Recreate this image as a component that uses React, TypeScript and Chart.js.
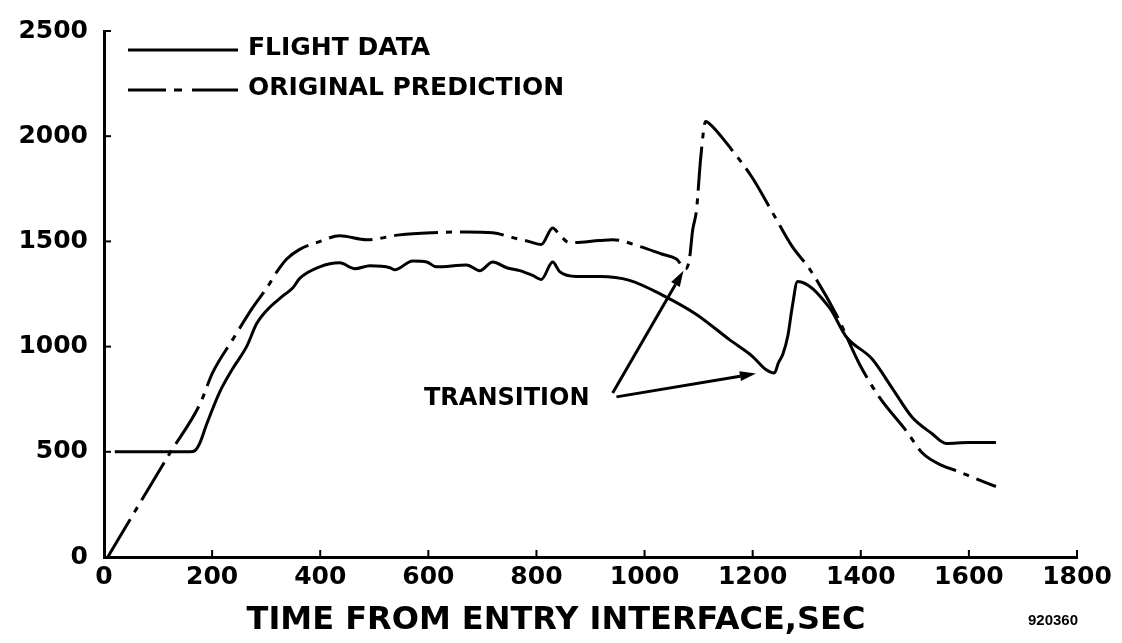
import React, { useEffect, useRef } from "react";
import { Chart, registerables } from "chart.js";

Chart.register(...registerables);

// ---------- data ----------
const xTicks = [0, 200, 400, 600, 800, 1000, 1200, 1400, 1600, 1800];
const yTicks = [0, 500, 1000, 1500, 2000, 2500];

const flightTime = [
  20, 160, 168, 177, 190, 214, 238, 264, 282, 301, 331, 349, 362, 399, 436, 464, 492, 529, 538, 571,
  597, 615, 671, 695, 719, 745, 769, 793, 809, 830, 843, 874, 917, 972, 1033, 1096, 1157, 1199, 1225,
  1240, 1248, 1256, 1265, 1273, 1283, 1342, 1373, 1421, 1458, 1495, 1532, 1558, 1600, 1650,
];
const flightTemp = [
  500, 500, 505, 540, 632, 784, 895, 1001, 1107, 1172, 1241, 1278, 1324, 1379, 1398, 1370, 1384, 1375,
  1365, 1407, 1402, 1379, 1388, 1361, 1402, 1375, 1361, 1338, 1319, 1402, 1356, 1333, 1333, 1315, 1245,
  1153, 1033, 955, 890, 875, 925, 965, 1050, 1185, 1310, 1185, 1047, 941, 803, 664, 586, 540, 544, 544,
];

const predTime = [
  7, 54, 122, 177, 201, 238, 275, 301, 320, 338, 362, 399, 436, 486, 547, 608, 671, 719, 756, 787, 809,
  830, 843, 861, 917, 941, 991, 1033, 1059, 1076, 1083, 1089, 1096, 1104, 1113, 1120, 1160, 1200, 1236,
  1273, 1305, 1355, 1397, 1434, 1484, 1514, 1551, 1576, 1615, 1650,
];
const predTemp = [
  0, 203, 494, 724, 876, 1033, 1185, 1278, 1356, 1416, 1462, 1499, 1527, 1508, 1531, 1541, 1545, 1541,
  1518, 1499, 1485, 1564, 1531, 1494, 1504, 1508, 1476, 1439, 1416, 1370, 1416, 1554, 1647, 1900, 2070,
  2060, 1940, 1800, 1640, 1476, 1370, 1150, 920, 761, 600, 494, 434, 411, 370, 335,
];

const legendLabels = ["FLIGHT DATA", "ORIGINAL PREDICTION"];
const xTitle = "TIME FROM ENTRY INTERFACE,SEC";
const figureId = "920360";
const transitionLabel = "TRANSITION";
// annotation anchors in data units (time, value)
const transitionTextAt = [745, 752];
const arrowFrom = [
  [941, 780],
  [948, 761],
];
const arrowTo = [
  [1072, 1361],
  [1206, 872],
];

const FONT = "'DejaVu Sans', sans-serif";

function drawArrow(ctx: CanvasRenderingContext2D, x1: number, y1: number, x2: number, y2: number) {
  const ang = Math.atan2(y2 - y1, x2 - x1);
  const headLen = 16;
  const headW = 5;
  const bx = x2 - headLen * Math.cos(ang);
  const by = y2 - headLen * Math.sin(ang);
  ctx.beginPath();
  ctx.moveTo(x1, y1);
  ctx.lineTo(bx, by);
  ctx.stroke();
  ctx.beginPath();
  ctx.moveTo(x2, y2);
  ctx.lineTo(bx + headW * Math.sin(ang), by - headW * Math.cos(ang));
  ctx.lineTo(bx - headW * Math.sin(ang), by + headW * Math.cos(ang));
  ctx.closePath();
  ctx.fill();
}

const decorPlugin = {
  id: "decor",
  afterDraw(chart: any) {
    const ctx: CanvasRenderingContext2D = chart.ctx;
    const xs = chart.scales.x;
    const ys = chart.scales.y;
    const area = chart.chartArea;
    ctx.save();
    ctx.strokeStyle = "#000";
    ctx.fillStyle = "#000";
    ctx.setLineDash([]);
    // inward tick marks
    ctx.lineWidth = 2;
    yTicks.forEach((v) => {
      const y = ys.getPixelForValue(v);
      ctx.beginPath();
      ctx.moveTo(area.left, y);
      ctx.lineTo(area.left + 7, y);
      ctx.stroke();
    });
    xTicks.forEach((v) => {
      const x = xs.getPixelForValue(v);
      ctx.beginPath();
      ctx.moveTo(x, area.bottom);
      ctx.lineTo(x, area.bottom - 7);
      ctx.stroke();
    });

    // legend
    ctx.lineWidth = 3;
    ctx.beginPath();
    ctx.moveTo(128, 50);
    ctx.lineTo(238, 50);
    ctx.stroke();
    const segs = [
      [128, 166],
      [174, 182],
      [192, 238],
    ];
    segs.forEach(([a, b]) => {
      ctx.beginPath();
      ctx.moveTo(a, 90);
      ctx.lineTo(b, 90);
      ctx.stroke();
    });
    ctx.font = `bold 25px ${FONT}`;
    ctx.textAlign = "left";
    ctx.textBaseline = "middle";
    ctx.fillText(legendLabels[0], 248, 48);
    ctx.fillText(legendLabels[1], 248, 88);

    // transition annotation
    const tx = xs.getPixelForValue(transitionTextAt[0]);
    const ty = ys.getPixelForValue(transitionTextAt[1]);
    ctx.font = `bold 24px ${FONT}`;
    ctx.textAlign = "center";
    ctx.fillText(transitionLabel, tx, ty);
    ctx.lineWidth = 3;
    arrowFrom.forEach((f, i) => {
      drawArrow(
        ctx,
        xs.getPixelForValue(f[0]),
        ys.getPixelForValue(f[1]),
        xs.getPixelForValue(arrowTo[i][0]),
        ys.getPixelForValue(arrowTo[i][1])
      );
    });

    // axis title & figure id
    ctx.font = `bold 32px ${FONT}`;
    ctx.textAlign = "center";
    ctx.fillText(xTitle, 556, 621);
    ctx.font = `bold 15px 'Liberation Sans', sans-serif`;
    ctx.textAlign = "left";
    ctx.fillText(figureId, 1028, 621);
    ctx.restore();
  },
};

export default function App() {
  const ref = useRef<HTMLCanvasElement | null>(null);
  useEffect(() => {
    if (!ref.current) return;
    const chart = new Chart(ref.current, {
      type: "line",
      data: {
        datasets: [
          {
            label: legendLabels[0],
            data: flightTime.map((t, i) => ({ x: t, y: flightTemp[i] })),
            borderColor: "#000",
            borderWidth: 3,
            pointRadius: 0,
            tension: 0.3,
            cubicInterpolationMode: "monotone",
            fill: false,
          },
          {
            label: legendLabels[1],
            data: predTime.map((t, i) => ({ x: t, y: predTemp[i] })),
            borderColor: "#000",
            borderWidth: 3,
            borderDash: [44, 8, 6, 8],
            pointRadius: 0,
            tension: 0.3,
            cubicInterpolationMode: "monotone",
            fill: false,
          },
        ],
      },
      options: {
        responsive: false,
        animation: false,
        devicePixelRatio: 1,
        layout: { padding: { top: 15, right: 45, left: 0, bottom: 0 } },
        plugins: { legend: { display: false }, tooltip: { enabled: false } },
        scales: {
          x: {
            type: "linear",
            min: 0,
            max: 1800,
            afterFit: (s: any) => {
              s.height = 86;
            },
            afterBuildTicks: (s: any) => {
              s.ticks = xTicks.map((v) => ({ value: v }));
            },
            ticks: {
              color: "#000",
              font: { family: FONT, size: 25, weight: "bold" },
              padding: 5,
              autoSkip: false,
              maxRotation: 0,
              callback: (v: any) => String(v),
            },
            grid: { display: false, drawTicks: false },
            border: { display: true, color: "#000", width: 3 },
          },
          y: {
            type: "linear",
            min: 0,
            max: 2500,
            afterFit: (s: any) => {
              s.width = 104;
            },
            afterBuildTicks: (s: any) => {
              s.ticks = yTicks.map((v) => ({ value: v }));
            },
            ticks: {
              color: "#000",
              font: { family: FONT, size: 25, weight: "bold" },
              padding: 16,
              autoSkip: false,
              callback: (v: any) => String(v),
            },
            grid: { display: false, drawTicks: false },
            border: { display: true, color: "#000", width: 3 },
          },
        },
      },
      plugins: [decorPlugin],
    } as any);
    return () => chart.destroy();
  }, []);
  return (
    <div style={{ position: "fixed", left: 0, top: 0, width: 1122, height: 643, background: "#fff" }}>
      <canvas ref={ref} width={1122} height={643} />
    </div>
  );
}
